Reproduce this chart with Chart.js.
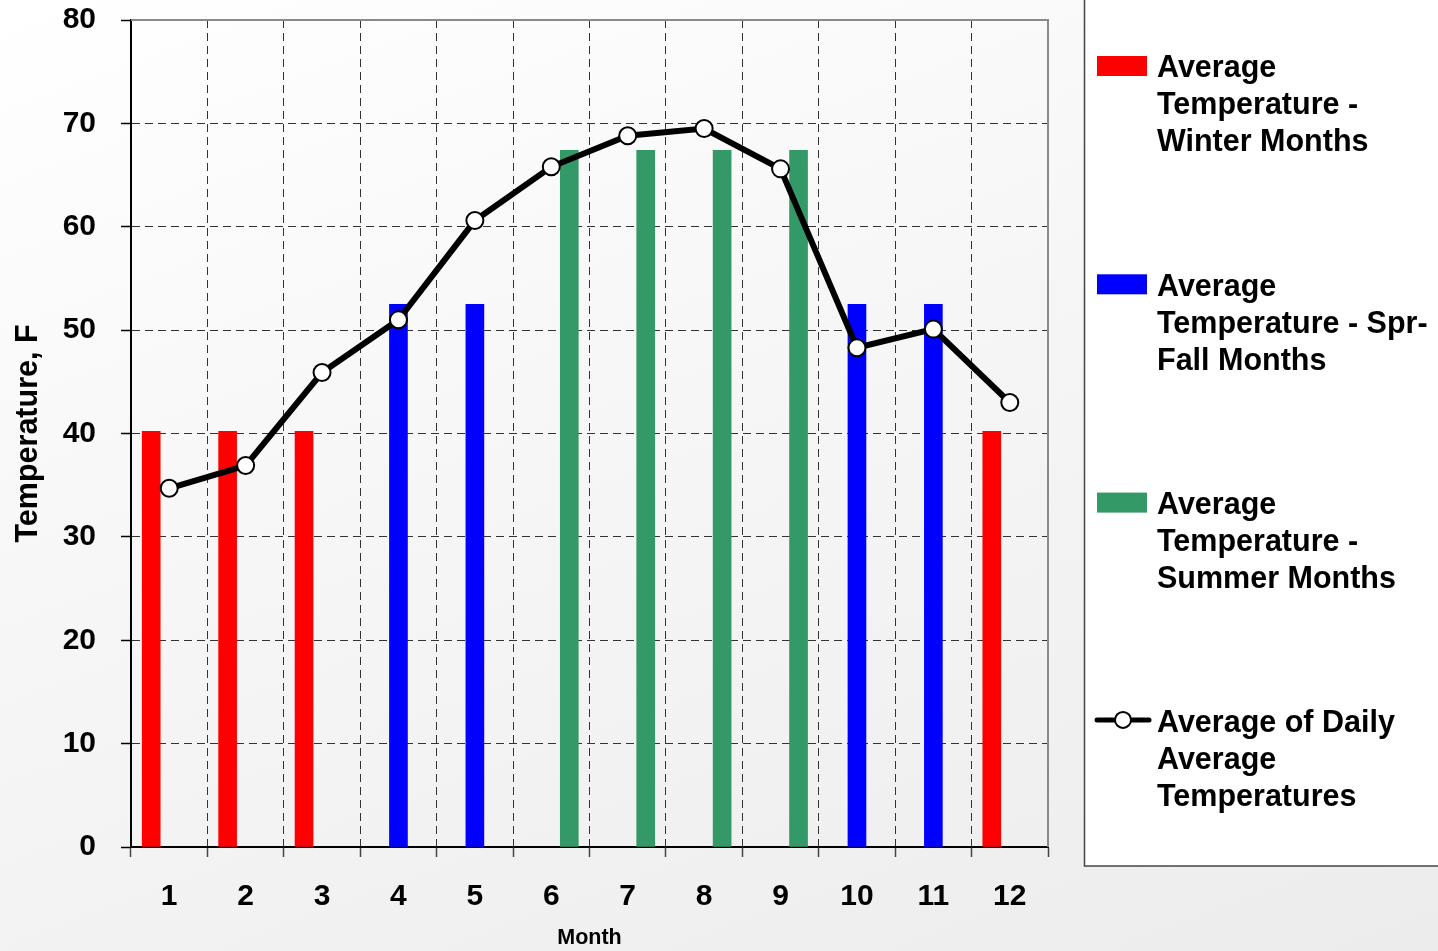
<!DOCTYPE html>
<html>
<head>
<meta charset="utf-8">
<title>Average Temperature by Month</title>
<script src="https://cdn.jsdelivr.net/npm/chart.js@4.4.1/dist/chart.umd.min.js"></script>
<style>
  html, body { margin: 0; padding: 0; }
  body {
    width: 1438px; height: 951px; overflow: hidden;
    background: linear-gradient(160deg, #ffffff 0%, #f6f6f6 45%, #ececec 100%);
  }
  #wrap { position: relative; width: 1438px; height: 951px; }
</style>
</head>
<body>
<div id="wrap"><canvas id="chart"></canvas></div>
<script>
// Month numbers along the x axis
const months = ['1', '2', '3', '4', '5', '6', '7', '8', '9', '10', '11', '12'];

// Seasonal average bars (null where the month belongs to another season)
const winterAvg = [40.2, 40.2, 40.2, null, null, null, null, null, null, null, null, 40.2];
const sprFallAvg = [null, null, null, 52.5, 52.5, null, null, null, null, 52.5, 52.5, null];
const summerAvg = [null, null, null, null, null, 67.4, 67.4, 67.4, 67.4, null, null, null];

// Monthly average of daily average temperatures
const dailyAvg = [34.7, 36.9, 45.9, 51.0, 60.6, 65.8, 68.8, 69.5, 65.6, 48.3, 50.1, 43.0];

// Y axis range
const yTicks = { min: 0, max: 80, step: 10 };

// Legend text, one array of lines per series
const legendLines = [
  ['Average', 'Temperature -', 'Winter Months'],
  ['Average', 'Temperature - Spr-', 'Fall Months'],
  ['Average', 'Temperature -', 'Summer Months'],
  ['Average of Daily', 'Average', 'Temperatures']
];

const FONT = '"Liberation Sans", Arial, Helvetica, sans-serif';

// Grey frame on the top and right edges of the plot area
const frameLines = {
  id: 'frameLines',
  beforeDatasetsDraw(chart) {
    const { ctx, chartArea: a } = chart;
    ctx.save();
    ctx.strokeStyle = '#8a8a8a';
    ctx.lineWidth = 2;
    ctx.beginPath();
    ctx.moveTo(a.left, a.top);
    ctx.lineTo(a.right, a.top);
    ctx.lineTo(a.right, a.bottom);
    ctx.stroke();
    ctx.restore();
  }
};

// Boxed legend to the right with wrapped entries
const boxLegend = {
  id: 'boxLegend',
  afterDraw(chart) {
    const ctx = chart.ctx;
    const boxL = 1084, boxT = -2, boxR = 1442, boxB = 866;
    ctx.save();
    ctx.fillStyle = '#ffffff';
    ctx.fillRect(boxL, boxT, boxR - boxL, boxB - boxT);
    ctx.strokeStyle = '#444';
    ctx.lineWidth = 1.5;
    ctx.strokeRect(boxL + 0.5, boxT, boxR - boxL, boxB - boxT);

    const textX = 1157;
    const firstMid = 69;
    const entryGap = 218.3;
    const lineGap = 37;
    ctx.font = 'bold 30.5px ' + FONT;
    ctx.textBaseline = 'middle';
    ctx.textAlign = 'left';
    chart.data.datasets.forEach((ds, i) => {
      const mid = firstMid + i * entryGap;
      if (ds.type === 'line') {
        ctx.strokeStyle = ds.borderColor;
        ctx.lineWidth = 5;
        ctx.lineCap = 'round';
        ctx.beginPath();
        ctx.moveTo(1097, mid - 4);
        ctx.lineTo(1149, mid - 4);
        ctx.stroke();
        ctx.beginPath();
        ctx.arc(1123, mid - 4, 8, 0, Math.PI * 2);
        ctx.fillStyle = ds.pointBackgroundColor;
        ctx.fill();
        ctx.lineWidth = 2;
        ctx.stroke();
      } else {
        ctx.fillStyle = ds.backgroundColor;
        ctx.fillRect(1097, mid - 13, 50, 20);
      }
      ctx.fillStyle = '#000';
      legendLines[i].forEach((t, k) => {
        ctx.fillText(t, textX, mid + k * lineGap);
      });
    });
    ctx.restore();
  }
};

const barCommon = {
  type: 'bar',
  order: 2,
  categoryPercentage: 0.667,
  barPercentage: 1.0,
  barThickness: 18,
  borderWidth: 0
};

new Chart(document.getElementById('chart'), {
  data: {
    labels: months,
    datasets: [
      Object.assign({}, barCommon, {
        label: 'Average Temperature - Winter Months',
        data: winterAvg,
        backgroundColor: '#ff0000'
      }),
      Object.assign({}, barCommon, {
        label: 'Average Temperature - Spr-Fall Months',
        data: sprFallAvg,
        backgroundColor: '#0000ff'
      }),
      Object.assign({}, barCommon, {
        label: 'Average Temperature - Summer Months',
        data: summerAvg,
        backgroundColor: '#339966'
      }),
      {
        type: 'line',
        order: 0,
        label: 'Average of Daily Average Temperatures',
        data: dailyAvg,
        borderColor: '#000000',
        borderWidth: 6,
        tension: 0,
        pointRadius: 8.5,
        pointBorderWidth: 2,
        pointBackgroundColor: '#ffffff',
        pointBorderColor: '#000000'
      }
    ]
  },
  options: {
    responsive: true,
    maintainAspectRatio: false,
    animation: false,
    layout: { padding: { top: 20, right: 390, left: 0, bottom: 0 } },
    plugins: {
      legend: { display: false },
      tooltip: { enabled: false }
    },
    scales: {
      x: {
        offset: true,
        afterFit(scale) {
          scale.height = 104;
          scale.paddingLeft = 0;
          scale.paddingRight = 0;
        },
        grid: {
          offset: true,
          color: (c) => (c.index === 0 || c.index === months.length) ? 'rgba(0,0,0,0)' : '#333',
          lineWidth: 1,
          tickColor: '#444',
          tickLength: 10,
          tickWidth: 1.5,
          tickBorderDash: []
        },
        border: { display: true, color: '#000', width: 2, dash: [8, 5] },
        ticks: {
          color: '#000',
          padding: 22,
          font: { family: FONT, size: 30, weight: 'bold' }
        },
        title: {
          display: true,
          text: 'Month',
          color: '#000',
          padding: { top: 7, bottom: 0 },
          font: { family: FONT, size: 21.5, weight: 'bold' }
        }
      },
      y: {
        min: yTicks.min,
        max: yTicks.max,
        afterFit(scale) {
          scale.width = 131;
          scale.paddingTop = 0;
          scale.paddingBottom = 0;
        },
        grid: {
          color: (c) => (c.tick && (c.tick.value === yTicks.max || c.tick.value === yTicks.min)) ? 'rgba(0,0,0,0)' : '#333',
          lineWidth: 1,
          tickColor: '#000',
          tickLength: 10,
          tickWidth: 1.5,
          tickBorderDash: []
        },
        border: { display: true, color: '#000', width: 2, dash: [8, 5] },
        ticks: {
          stepSize: yTicks.step,
          color: '#000',
          padding: 25,
          font: { family: FONT, size: 30, weight: 'bold' }
        },
        title: {
          display: true,
          text: 'Temperature, F',
          color: '#000',
          padding: { top: 10, bottom: 0 },
          font: { family: FONT, size: 30.5, weight: 'bold' }
        }
      }
    }
  },
  plugins: [frameLines, boxLegend]
});
</script>
</body>
</html>
